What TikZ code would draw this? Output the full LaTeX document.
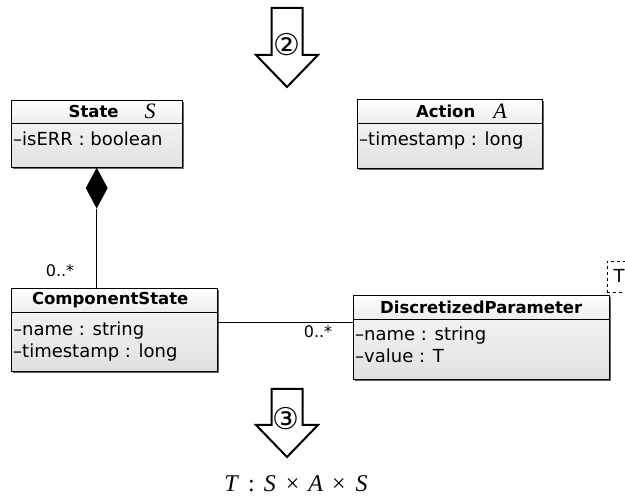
\documentclass[tikz,border=0pt]{standalone}
\usepackage{fontspec}
\setmainfont{Liberation Serif}
\setsansfont{DejaVu Sans}
\usetikzlibrary{shapes.geometric,shadows}

\tikzset{
	classhead/.style={draw, anchor=north west, inner sep=0pt, top color=white, bottom color=black!7,
		drop shadow={shadow xshift=1.5pt, shadow yshift=-1.5pt, fill=black!60, opacity=1}},
	classbody/.style={classhead, top color=black!5, bottom color=black!12},
	classname/.style={inner sep=0pt, font=\sffamily\bfseries\fontsize{16.5}{20}\selectfont},
	classsym/.style={inner sep=0pt, font=\itshape\fontsize{22}{24}\selectfont},
	attr/.style={anchor=base west, inner sep=0pt, font=\sffamily\fontsize{18}{20}\selectfont},
	mult/.style={inner sep=0pt, font=\sffamily\fontsize{16}{18}\selectfont},
	bigarrow/.style={draw, line width=2pt, fill=white, line join=miter},
	stepno/.style={inner sep=0pt, font=\sffamily\fontsize{30}{32}\selectfont},
}

\begin{document}
\begin{tikzpicture}[x=1pt, y=-1pt]
	\useasboundingbox (0,0) rectangle (625,502);
	
	% step 2
	\draw[bigarrow] (271.5,8) -- (302.5,8) -- (302.5,55) -- (318,55) -- (287,87) -- (256,55) -- (271.5,55) -- cycle;
	\node (step2) at (287,45) [stepno] {②};
	
	% State
	\node (stHead) at (11,100) [classhead, minimum width=171pt, minimum height=23pt] {};
	\node (stBody) at (11,123) [classbody, minimum width=171pt, minimum height=44pt] {};
	\node (stName) at (stHead.center) [classname, xshift=-3pt] {State};
	\node (stSym) at (150,111) [classsym] {S};
	\node (stErr) at ([xshift=2pt, yshift=-23pt]stBody.north west) [attr] {–isERR : boolean};
	
	% Action
	\node (acHead) at (357,99) [classhead, minimum width=185pt, minimum height=24pt] {};
	\node (acBody) at (357,123) [classbody, minimum width=185pt, minimum height=45pt] {};
	\node (acName) at (acHead.center) [classname, xshift=-4pt] {Action};
	\node (acSym) at (500,111) [classsym] {A};
	\node (acTime) at ([xshift=2pt, yshift=-23pt]acBody.north west) [attr] {–timestamp : long};
	
	% ComponentState
	\node (csHead) at (11,288) [classhead, minimum width=206pt, minimum height=24pt] {};
	\node (csBody) at (11,312) [classbody, minimum width=206pt, minimum height=59pt] {};
	\node (csName) at (csHead.center) [classname, xshift=-4pt] {ComponentState};
	\node (csNm) at ([xshift=2pt, yshift=-24pt]csBody.north west) [attr] {–name : string};
	\node (csTime) at ([xshift=2pt, yshift=-46pt]csBody.north west) [attr] {–timestamp : long};
	
	% DiscretizedParameter
	\node (dpT) at (607,292) [draw, dashed, fill=white, anchor=south west, minimum width=24pt, minimum height=31pt, inner sep=0pt, font=\sffamily\fontsize{18}{20}\selectfont] {T};
	\node (dpHead) at (353,295) [classhead, minimum width=256pt, minimum height=24pt] {};
	\node (dpBody) at (353,319) [classbody, minimum width=256pt, minimum height=60pt] {};
	\node (dpName) at (dpHead.center) [classname] {DiscretizedParameter};
	\node (dpNm) at ([xshift=2pt, yshift=-22pt]dpBody.north west) [attr] {–name : string};
	\node (dpVal) at ([xshift=2pt, yshift=-44pt]dpBody.north west) [attr] {–value : T};
	
	% composition
	\node (comp) at (stBody.south) [diamond, fill=black, anchor=north, minimum width=22pt, minimum height=41pt, inner sep=0pt] {};
	\draw[thick] (comp.south) -- (comp.south |- csHead.north);
	\node (csMult) at (60,271) [mult] {0..*};
	
	% association
	\draw[thick] ([yshift=-10pt]csBody.north east) -- ([yshift=-3pt]dpBody.north west);
	\node (dpMult) at (318,332) [mult] {0..*};
	
	% step 3
	\draw[bigarrow] (271.5,389) -- (302.5,389) -- (302.5,425) -- (318,425) -- (287,457) -- (256,425) -- (271.5,425) -- cycle;
	\node (step3) at (286,419) [stepno] {③};
	
	\node (tmap) at (296,484) [inner sep=0pt, font=\fontsize{24}{26}\selectfont] {\textit{T}\hspace{9pt}:\hspace{9pt}\textit{S}\hspace{10pt}×\hspace{9pt}\textit{A}\hspace{9pt}×\hspace{10pt}\textit{S}};
\end{tikzpicture}
\end{document}
